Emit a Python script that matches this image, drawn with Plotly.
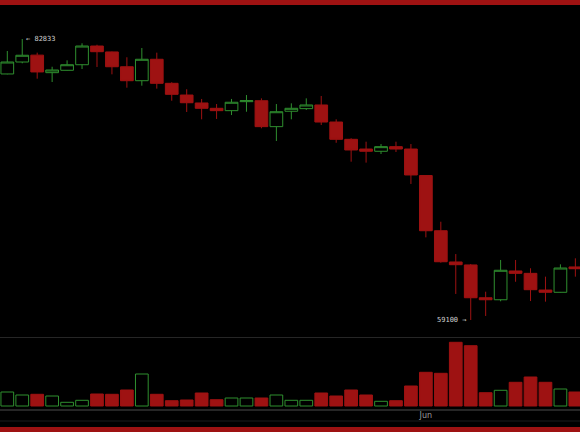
import plotly.graph_objects as go
import pandas as pd

# ---- data ----
dates = pd.date_range("2024-05-04", periods=39, freq="D")
opens = [79880, 80890, 81470, 79990, 80190, 80660, 82240, 81740, 80490, 79310,
         81120, 79090, 78100, 77430, 76980, 76780, 77540, 77620, 75430, 76730,
         76950, 77260, 75820, 74360, 73540, 73350, 73740, 73540, 71300, 66640,
         64000, 63750, 60980, 60810, 63240, 63040, 61630, 61440, 63580]
highs = [81820, 82833, 81680, 80490, 81030, 82470, 82350, 81780, 81290, 82070,
         81680, 79180, 78590, 77770, 77340, 77770, 78100, 77820, 77340, 77400,
         77820, 78020, 76050, 74450, 74160, 73960, 74160, 73960, 71340, 67400,
         64670, 63830, 61490, 64170, 64170, 63470, 62760, 63800, 64310]
lows = [79850, 80780, 79480, 79200, 80170, 80300, 80470, 79850, 78720, 78890,
        78640, 77620, 76670, 76050, 76080, 76410, 76690, 75290, 74220, 76050,
        76840, 75570, 74070, 72470, 72390, 73120, 73290, 70590, 66080, 63940,
        61300, 59100, 59440, 60680, 62330, 60700, 60650, 61420, 62760]
closes = [80890, 81460, 80050, 80215, 80660, 82240, 81760, 80490, 79310, 81120,
          79090, 78160, 77450, 76980, 76780, 77490, 77620, 75430, 76690, 76980,
          77260, 75820, 74360, 73460, 73350, 73740, 73540, 71350, 66640, 64020,
          63770, 60980, 60810, 63300, 63040, 61660, 61440, 63490, 63430]
volumes = [14000, 11000, 11700, 10000, 3700, 5700, 12000, 11700, 16000, 32000,
           11700, 5300, 6000, 13000, 6300, 8000, 8000, 8000, 11000, 5700,
           5700, 13000, 10000, 16000, 11000, 4700, 5300, 20000, 33700, 32700,
           63700, 60300, 13300, 15700, 23700, 29000, 23700, 17000, 14000]
tick_dates = ["2024-06-01"]
tick_labels = ["Jun"]
high_label = "82833"
low_label = "59100"

# ---- styling ----
W, H = 580, 432
RED = "#9e1212"
GREEN = "#2f8f2f"
BG = "#000000"
GRID = "#262626"

def py(px):
    return 1 - px / H

up = [c >= o for o, c in zip(opens, closes)]
vol_fill = [BG if u else RED for u in up]
vol_line = [GREEN if u else RED for u in up]

fig = go.Figure()
fig.add_trace(go.Candlestick(
    x=dates, open=opens, high=highs, low=lows, close=closes,
    increasing=dict(line=dict(color=GREEN, width=1), fillcolor="rgba(0,0,0,0)"),
    decreasing=dict(line=dict(color=RED, width=1), fillcolor=RED),
    whiskerwidth=0, xaxis="x", yaxis="y", showlegend=False,
))
fig.add_trace(go.Bar(
    x=dates, y=volumes, width=0.85 * 86400000,
    marker=dict(color=vol_fill, line=dict(color=vol_line, width=1)),
    xaxis="x2", yaxis="y2", showlegend=False,
))

day = pd.Timedelta(days=1)
x0 = dates[0] - 0.488 * day
x1 = dates[0] + 38.31 * day

fig.update_layout(
    width=W, height=H,
    margin=dict(l=0, r=0, t=0, b=0),
    paper_bgcolor=BG, plot_bgcolor=BG,
    boxgap=0.15, boxgroupgap=0,
    showlegend=False,
    xaxis=dict(domain=[0, 1], anchor="y", range=[x0, x1], showgrid=False,
               zeroline=False, showticklabels=False, rangeslider=dict(visible=False),
               fixedrange=True),
    yaxis=dict(domain=[py(337), py(6)], range=[57664, 85620], visible=False,
               showgrid=False, fixedrange=True),
    xaxis2=dict(domain=[0, 1], anchor="y2", range=[x0, x1], showgrid=False,
                zeroline=False, tickmode="array", tickvals=tick_dates,
                ticktext=tick_labels, ticks="",
                tickfont=dict(family="DejaVu Sans", size=8, color="#9a9a9a"),
                showline=False, fixedrange=True),
    yaxis2=dict(domain=[py(408.5), py(337)], range=[-2500, 69000], visible=False,
                showgrid=False, fixedrange=True),
    bargap=0.15,
    shapes=[
        dict(type="rect", xref="paper", yref="paper", x0=0, x1=1, y0=py(5), y1=1,
             fillcolor=RED, line=dict(width=0), layer="above"),
        dict(type="rect", xref="paper", yref="paper", x0=0, x1=1, y0=0, y1=py(427),
             fillcolor=RED, line=dict(width=0), layer="above"),
        dict(type="line", xref="paper", yref="paper", x0=0, x1=1, y0=py(337.5), y1=py(337.5),
             line=dict(color=GRID, width=1)),
        dict(type="line", xref="paper", yref="paper", x0=0, x1=1, y0=py(410), y1=py(410),
             line=dict(color=GRID, width=2)),
        dict(type="line", xref="paper", yref="paper", x0=0, x1=1, y0=py(421), y1=py(421),
             line=dict(color="#1c1c1c", width=1)),
    ],
    annotations=[
        dict(x=dates[highs.index(max(highs))], y=max(highs), xref="x", yref="y",
             text="\u2190 " + high_label, showarrow=False, xanchor="left",
             yanchor="middle", xshift=2,
             font=dict(family="DejaVu Sans Mono", size=7, color="#d0d0d0")),
        dict(x=dates[lows.index(min(lows))], y=min(lows), xref="x", yref="y",
             text=low_label + " \u2192", showarrow=False, xanchor="right",
             yanchor="middle", xshift=-2,
             font=dict(family="DejaVu Sans Mono", size=7, color="#d0d0d0")),
    ],
)

fig.write_html(
    "out.html",
    config={"displayModeBar": False},
    post_script="document.body.style.margin='0';document.body.style.background='#000';",
)
